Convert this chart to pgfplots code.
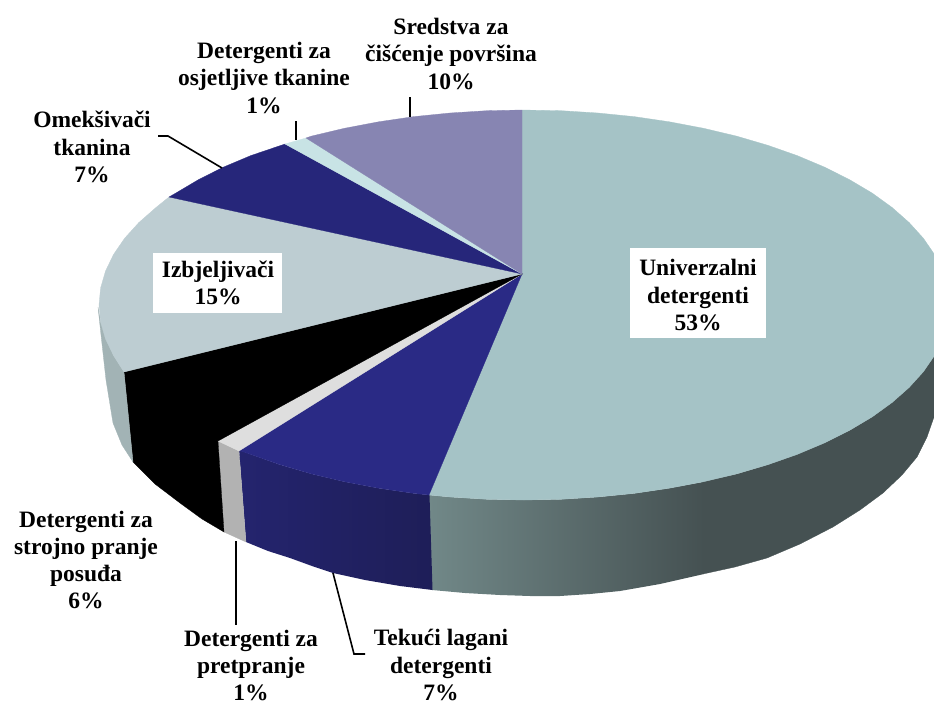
\documentclass[border=0pt]{standalone}
\usepackage{pgfplots}
\pgfplotsset{compat=1.18}
\usepackage{fontspec}
\setmainfont{Liberation Serif}
\definecolor{cU}{HTML}{A5C3C6}
\definecolor{cUa}{HTML}{718888}
\definecolor{cUb}{HTML}{455152}
\definecolor{cT}{HTML}{2A2A85}
\definecolor{cTa}{HTML}{24246E}
\definecolor{cTb}{HTML}{1E1E58}
\definecolor{cO}{HTML}{26267A}
\definecolor{cS}{HTML}{8785B2}
\definecolor{cD}{HTML}{C8E3E5}
\definecolor{cI}{HTML}{BDCDD2}
\definecolor{cIw}{HTML}{A2B3B5}
\definecolor{cP}{HTML}{DEDEDE}
\definecolor{cPw}{HTML}{B2B2B2}
\tikzset{lab/.style={align=center,font=\fontsize{23.5}{27.2}\selectfont\bfseries,inner sep=0pt}}
\pgfplotsset{slice/.style={no marks,fill=#1,draw=#1,line width=0.3pt,forget plot},
 lead/.style={no marks,black,line width=1.6pt,forget plot}}
\begin{document}
\begin{tikzpicture}
\path[use as bounding box,clip] (0,0) rectangle (934pt,704pt);
\begin{axis}[at={(0,0)},anchor=south west,scale only axis,width=934pt,height=704pt,
  xmin=0,xmax=934,ymin=0,ymax=704,y dir=reverse,hide axis]
% walls
\addplot[no marks,draw=none,left color=cUa,right color=cUb,forget plot] coordinates {
(429,495)(450,497)(487,499.3)(524,500)(561,499.3)(598,497)(634,493.4)(669,488.2)(704,481.7)
(704,574)(660,584)(620,591)(590,594)(560,596)(530,596)(500,595)(465,593)(432,590)} --cycle;
\addplot[slice=cUb] coordinates {
(703,481.7)(737,474)(768,464.7)(797,454.4)(824.5,442.9)(850,430.3)(872,417)(892,402.5)(909,387.4)(923.4,371.7)(934.5,355.5)(942,339)
(950,339)(950,400)(934,417)(927,437)(917,457)(902,475)(883,493)(860,510)(833,527)(800,544)(767,558)(735,567)(703,574)} --cycle;
\addplot[no marks,draw=none,left color=cTa,right color=cTb,forget plot] coordinates {
(239,450)(251,454.4)(280,464.7)(311.5,473.9)(344.4,481.7)(378.6,488.2)(414,493.4)(429.5,495)
(432.5,590)(400,586)(365,580)(333,573)(312,566)(290,558)(268,551)(246,542)} --cycle;
\addplot[slice=cPw] coordinates {(218,441)(239,451)(246,542)(224,532)} --cycle;
\addplot[slice=black] coordinates {(124,372)(218,441)(224,532)(202,519)(180,503)(155,484)(133,462)} --cycle;
\addplot[slice=cIw] coordinates {(124,372)(113.5,355.5)(100.6,322)(98,307)(101,335)(106,380)(113,423)(122,445)(133,462)} --cycle;
% top slices
\addplot[slice=cU] coordinates {(522,274)(522,110)(561.1,110.7)(597.8,113)(634,116.6)(669.4,121.8)(703.6,128.3)(736.5,136.1)(767.8,145.3)(797.2,155.6)(824.5,167.1)(849.6,179.7)(872.2,193.1)(892.1,207.5)(909.2,222.6)(923.4,238.3)(934.5,254.5)(942.5,271.1)(947.4,288)(949,305)(947.4,322)(942.5,338.9)(934.5,355.5)(923.4,371.7)(909.2,387.4)(892.1,402.5)(872.2,416.9)(849.6,430.3)(824.5,442.9)(797.2,454.4)(767.8,464.7)(736.5,473.9)(703.6,481.7)(669.4,488.2)(634,493.4)(597.8,497)(561.1,499.3)(524,500)(486.9,499.3)(450.2,497)(429,495)} --cycle;
\addplot[slice=cT] coordinates {(522,274)(429,495)(414,493.4)(378.6,488.2)(344.4,481.7)(311.5,473.9)(280.2,464.7)(250.8,454.4)(239,450.5)} --cycle;
\addplot[slice=cP] coordinates {(522,274)(239,451)(218,441)} --cycle;
\addplot[slice=black] coordinates {(522,274)(218,441)(198.4,430.3)(175.8,416.9)(156,402.5)(138.8,387.4)(124,372)} --cycle;
\addplot[slice=cI] coordinates {(522,274)(124,372)(113.5,355.5)(105.5,338.9)(100.6,322)(99,305)(100.6,288)(105.5,271.1)(113.5,254.5)(124.6,238.3)(138.8,222.6)(156,207.5)(169,197)} --cycle;
\addplot[slice=cO] coordinates {(522,274)(169,197)(175.8,193.1)(198.4,179.7)(223.5,167.1)(250.8,155.6)(285,144)} --cycle;
\addplot[slice=cD] coordinates {(522,274)(285,144)(306,138)} --cycle;
\addplot[slice=cS] coordinates {(522,274)(306,138)(311.5,136.1)(344.4,128.3)(378.6,121.8)(414,116.6)(450.2,113)(486.9,110.7)(522,110)} --cycle;
% leaders
\addplot[lead] coordinates {(410,97)(410,117)};
\addplot[lead] coordinates {(296,121)(296,140)};
\addplot[lead] coordinates {(158,136)(168,136)(222,168)};
\addplot[lead] coordinates {(236,541)(236,625)};
\addplot[lead] coordinates {(333,573)(354,654)(365,654)};
% labels
\fill[white] (axis cs:153,253) rectangle (axis cs:282,313);
\fill[white] (axis cs:630,248) rectangle (axis cs:766,338);
\node[lab] at (axis cs:451,54) {Sredstva za\\čišćenje površina\\10\%};
\node[lab] at (axis cs:264,78) {Detergenti za\\osjetljive tkanine\\1\%};
\node[lab] at (axis cs:92,147) {Omekšivači\\tkanina\\7\%};
\node[lab] at (axis cs:218,283) {Izbjeljivači\\15\%};
\node[lab] at (axis cs:698,295) {Univerzalni\\detergenti\\53\%};
\node[lab] at (axis cs:86,560) {Detergenti za\\strojno pranje\\posuđa\\6\%};
\node[lab] at (axis cs:251,665.5) {Detergenti za\\pretpranje\\1\%};
\node[lab] at (axis cs:441,665) {Tekući lagani\\detergenti\\7\%};
\end{axis}
\end{tikzpicture}
\end{document}
